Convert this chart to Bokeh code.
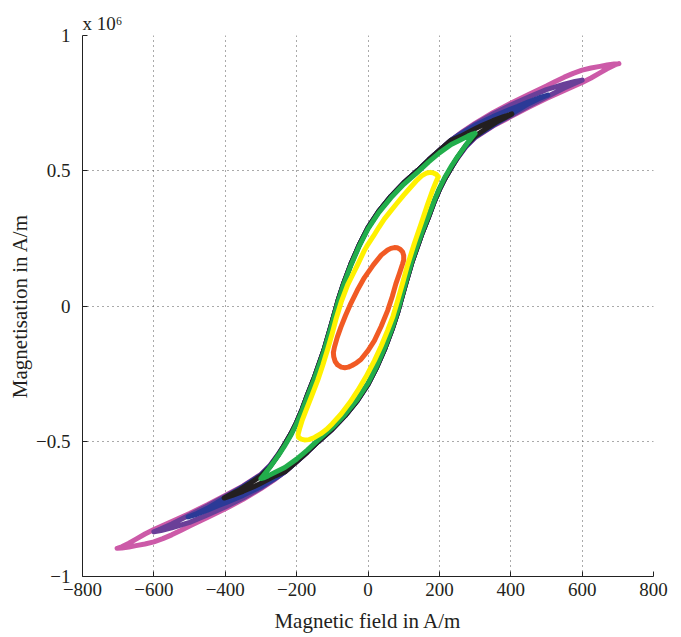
from bokeh.plotting import figure
from bokeh.models import Range1d, FixedTicker
from bokeh.embed import file_html
from bokeh.resources import INLINE

# ---- data (H in A/m, M in 10^6 A/m) ----
# shared central part of the outer loops (upper branch, descending H)
ENV_UP_H = [233, 200, 170, 140, 100, 64, 30, 0, -25, -48, -68, -84, -104, -124, -140, -152, -170, -185, -200, -215, -235]
ENV_UP_M = [0.613, 0.575, 0.54, 0.502, 0.455, 0.405, 0.35, 0.29, 0.225, 0.155, 0.085, 0.02, -0.075, -0.165, -0.225, -0.27, -0.33, -0.383, -0.43, -0.47, -0.515]
# shared central part (lower branch, ascending H)
ENV_LO_H = [-233, -200, -170, -140, -100, -64, -30, 0, 25, 48, 68, 84, 104, 124, 140, 152, 170, 185, 200, 215, 235]
ENV_LO_M = [-0.613, -0.575, -0.54, -0.502, -0.455, -0.405, -0.35, -0.29, -0.225, -0.155, -0.085, -0.02, 0.075, 0.165, 0.225, 0.27, 0.33, 0.383, 0.43, 0.47, 0.515]

# magenta loop (700 A/m) tip segments
MAG_UR_H = [703, 690, 670, 650, 625, 600, 575, 550, 525, 500, 450, 400, 350, 300, 260]
MAG_UR_M = [0.896, 0.895, 0.891, 0.886, 0.880, 0.872, 0.86, 0.846, 0.83, 0.813, 0.782, 0.75, 0.715, 0.675, 0.64]
MAG_UL_H = [-250, -275, -300, -350, -400, -450, -500, -550, -600, -625, -650, -670, -690, -703]
MAG_UL_M = [-0.545, -0.59, -0.622, -0.665, -0.70, -0.735, -0.767, -0.797, -0.826, -0.843, -0.862, -0.877, -0.89, -0.896]
MAG_LL_H = [-703, -690, -670, -650, -625, -600, -575, -550, -525, -500, -450, -400, -350, -300, -260]
MAG_LL_M = [-0.896, -0.895, -0.891, -0.886, -0.880, -0.872, -0.86, -0.846, -0.83, -0.813, -0.782, -0.75, -0.715, -0.675, -0.64]
MAG_LR_H = [250, 275, 300, 350, 400, 450, 500, 550, 600, 625, 650, 670, 690, 703]
MAG_LR_M = [0.545, 0.59, 0.622, 0.665, 0.70, 0.735, 0.767, 0.797, 0.826, 0.843, 0.862, 0.877, 0.89, 0.896]

# purple loop (600 A/m)
PUR_UR_H = [600, 580, 550, 525, 500, 450, 400, 350, 300, 260]
PUR_UR_M = [0.835, 0.83, 0.82, 0.81, 0.80, 0.772, 0.743, 0.71, 0.672, 0.638]
PUR_UL_H = [-250, -275, -300, -350, -400, -450, -500, -550, -580, -600]
PUR_UL_M = [-0.546, -0.591, -0.624, -0.667, -0.703, -0.739, -0.773, -0.806, -0.824, -0.835]
PUR_LL_H = [-600, -580, -550, -525, -500, -450, -400, -350, -300, -260]
PUR_LL_M = [-0.835, -0.83, -0.82, -0.81, -0.80, -0.772, -0.743, -0.71, -0.672, -0.638]
PUR_LR_H = [250, 275, 300, 350, 400, 450, 500, 550, 580, 600]
PUR_LR_M = [0.546, 0.591, 0.624, 0.667, 0.703, 0.739, 0.773, 0.806, 0.824, 0.835]

# blue loop (500 A/m)
BLU_UR_H = [504, 480, 450, 420, 400, 350, 300, 260]
BLU_UR_M = [0.78, 0.77, 0.755, 0.738, 0.728, 0.70, 0.668, 0.636]
BLU_UL_H = [-250, -275, -300, -350, -400, -450, -480, -504]
BLU_UL_M = [-0.547, -0.592, -0.625, -0.668, -0.708, -0.748, -0.767, -0.78]
BLU_LL_H = [-504, -480, -450, -420, -400, -350, -300, -260]
BLU_LL_M = [-0.78, -0.77, -0.755, -0.738, -0.728, -0.70, -0.668, -0.636]
BLU_LR_H = [250, 275, 300, 350, 400, 450, 480, 504]
BLU_LR_M = [0.547, 0.592, 0.625, 0.668, 0.708, 0.748, 0.767, 0.78]

# black loop (400 A/m)
BLK_UR_H = [403, 380, 350, 320, 300, 260]
BLK_UR_M = [0.71, 0.70, 0.685, 0.668, 0.655, 0.628]
BLK_UL_H = [-250, -275, -300, -330, -360, -385, -403]
BLK_UL_M = [-0.548, -0.595, -0.628, -0.655, -0.68, -0.697, -0.71]
BLK_LL_H = [-403, -380, -350, -320, -300, -260]
BLK_LL_M = [-0.71, -0.70, -0.685, -0.668, -0.655, -0.628]
BLK_LR_H = [250, 275, 300, 330, 360, 385, 403]
BLK_LR_M = [0.548, 0.595, 0.628, 0.655, 0.68, 0.697, 0.71]

# green loop (300 A/m)
GRN_UP_H = [300, 290, 280, 260, 233, 200, 170, 140, 100, 64, 30, 0, -25, -48, -68, -84, -104, -124, -140, -152, -170, -185, -200, -215, -235, -250, -265, -280, -292, -300]
GRN_UP_M = [0.638, 0.634, 0.628, 0.615, 0.597, 0.566, 0.533, 0.496, 0.45, 0.40, 0.345, 0.285, 0.22, 0.15, 0.08, 0.015, -0.08, -0.17, -0.23, -0.275, -0.335, -0.388, -0.435, -0.475, -0.52, -0.55, -0.578, -0.605, -0.625, -0.638]
GRN_LO_H = [-300, -290, -280, -260, -233, -200, -170, -140, -100, -64, -30, 0, 25, 48, 68, 84, 104, 124, 140, 152, 170, 185, 200, 215, 235, 250, 265, 280, 292, 300]
GRN_LO_M = [-0.638, -0.634, -0.628, -0.615, -0.597, -0.566, -0.533, -0.496, -0.45, -0.40, -0.345, -0.285, -0.22, -0.15, -0.08, -0.015, 0.08, 0.17, 0.23, 0.275, 0.335, 0.388, 0.435, 0.475, 0.52, 0.55, 0.578, 0.605, 0.625, 0.638]

# yellow loop (200 A/m)
YEL_UP_H = [197, 192, 185, 175, 165, 150, 135, 120, 100, 80, 60, 46, 30, 15, 0, -11, -30, -45, -57, -75, -90, -100, -113, -127, -141, -158, -174, -185, -192, -196, -195]
YEL_UP_M = [0.478, 0.486, 0.491, 0.494, 0.492, 0.481, 0.462, 0.44, 0.41, 0.378, 0.345, 0.322, 0.29, 0.258, 0.228, 0.203, 0.15, 0.11, 0.078, 0.015, -0.05, -0.1, -0.16, -0.22, -0.275, -0.333, -0.387, -0.425, -0.455, -0.475, -0.485]
YEL_LO_H = [-188, -178, -165, -150, -132, -115, -100, -76, -50, -29, -5, 18, 37, 55, 70, 83, 97, 111, 130, 149, 166, 181, 191, 197]
YEL_LO_M = [-0.492, -0.495, -0.494, -0.486, -0.472, -0.455, -0.435, -0.40, -0.355, -0.313, -0.26, -0.202, -0.148, -0.09, -0.038, 0.02, 0.085, 0.152, 0.232, 0.305, 0.372, 0.428, 0.46, 0.478]

# red minor loop (100 A/m)
RED_UP_H = [100, 97, 90, 82, 74, 64, 55, 37, 15, -10, -30, -48, -63, -76, -86, -94, -97, -96]
RED_UP_M = [0.187, 0.2, 0.21, 0.215, 0.216, 0.213, 0.207, 0.188, 0.152, 0.105, 0.058, 0.01, -0.035, -0.078, -0.115, -0.152, -0.172, -0.188]
RED_LO_H = [-92, -85, -75, -65, -55, -45, -32, -20, 0, 18, 37, 55, 68, 78, 88, 97, 100, 100]
RED_LO_M = [-0.205, -0.218, -0.226, -0.228, -0.226, -0.22, -0.21, -0.198, -0.165, -0.128, -0.075, -0.017, 0.035, 0.082, 0.12, 0.156, 0.17, 0.187]

COLORS = {"mag": "#CC5AA8", "pur": "#6A3F98", "blu": "#2B3A97", "blk": "#231F20",
          "grn": "#22AE4C", "yel": "#FFF100", "red": "#F15A24"}

LOOPS = [
    (MAG_UR_H + ENV_UP_H + MAG_UL_H + MAG_LL_H + ENV_LO_H + MAG_LR_H,
     MAG_UR_M + ENV_UP_M + MAG_UL_M + MAG_LL_M + ENV_LO_M + MAG_LR_M, COLORS["mag"]),
    (PUR_UR_H + ENV_UP_H + PUR_UL_H + PUR_LL_H + ENV_LO_H + PUR_LR_H,
     PUR_UR_M + ENV_UP_M + PUR_UL_M + PUR_LL_M + ENV_LO_M + PUR_LR_M, COLORS["pur"]),
    (BLU_UR_H + ENV_UP_H + BLU_UL_H + BLU_LL_H + ENV_LO_H + BLU_LR_H,
     BLU_UR_M + ENV_UP_M + BLU_UL_M + BLU_LL_M + ENV_LO_M + BLU_LR_M, COLORS["blu"]),
    (BLK_UR_H + ENV_UP_H + BLK_UL_H + BLK_LL_H + ENV_LO_H + BLK_LR_H,
     BLK_UR_M + ENV_UP_M + BLK_UL_M + BLK_LL_M + ENV_LO_M + BLK_LR_M, COLORS["blk"]),
    (GRN_UP_H + GRN_LO_H, GRN_UP_M + GRN_LO_M, COLORS["grn"]),
    (YEL_UP_H + YEL_LO_H + YEL_UP_H[:1], YEL_UP_M + YEL_LO_M + YEL_UP_M[:1], COLORS["yel"]),
    (RED_UP_H + RED_LO_H, RED_UP_M + RED_LO_M, COLORS["red"]),
]

X_TICKS = [-800, -600, -400, -200, 0, 200, 400, 600, 800]
X_LABELS = ["\u2212800", "\u2212600", "\u2212400", "\u2212200", "0", "200", "400", "600", "800"]
Y_TICKS = [-1, -0.5, 0, 0.5, 1]
Y_LABELS = ["\u22121", "\u22120.5", "0", "0.5", "1"]

FONT = "Liberation Serif"
INK = "#231F20"

p = figure(width=681, height=637, x_range=Range1d(-800, 800), y_range=Range1d(-1, 1),
           output_backend="svg", toolbar_location=None,
           min_border_left=82, min_border_right=28, min_border_top=35, min_border_bottom=61)
p.outline_line_color = None
p.background_fill_color = "white"
p.border_fill_color = "white"

for hs, ms, col in LOOPS:
    p.line(hs, ms, line_color=col, line_width=5, line_join="round", line_cap="round")

p.xaxis.ticker = FixedTicker(ticks=X_TICKS)
p.yaxis.ticker = FixedTicker(ticks=Y_TICKS)
p.xaxis.major_label_overrides = {t: l for t, l in zip(X_TICKS, X_LABELS)}
p.yaxis.major_label_overrides = {t: l for t, l in zip(Y_TICKS, Y_LABELS)}

for ax in (p.xaxis[0], p.yaxis[0]):
    ax.major_tick_in = 5
    ax.major_tick_out = 0
    ax.minor_tick_line_color = None
    ax.axis_line_color = "#222222"
    ax.major_tick_line_color = "#222222"
    ax.major_label_text_font = FONT
    ax.major_label_text_font_size = "19px"
    ax.major_label_text_color = INK
    ax.axis_label_text_font = FONT
    ax.axis_label_text_font_size = "21px"
    ax.axis_label_text_font_style = "normal"
    ax.axis_label_text_color = INK

p.xaxis.axis_label = "Magnetic field in A/m"
p.yaxis.axis_label = "Magnetisation in A/m"
p.xaxis.major_label_standoff = 6
p.xaxis.axis_label_standoff = 10
p.yaxis.major_label_standoff = 12
p.yaxis.axis_label_standoff = 1

p.grid.grid_line_color = "#555555"
p.grid.grid_line_width = 1
p.grid.grid_line_dash = "1 4"

p.title.text = "x 10\u2076"
p.title.align = "left"
p.title.text_font = FONT
p.title.text_font_size = "19px"
p.title.text_font_style = "normal"
p.title.text_color = INK
p.title.standoff = 4
p.title.offset = 0

open("out.html", "w").write(file_html(p, INLINE))
